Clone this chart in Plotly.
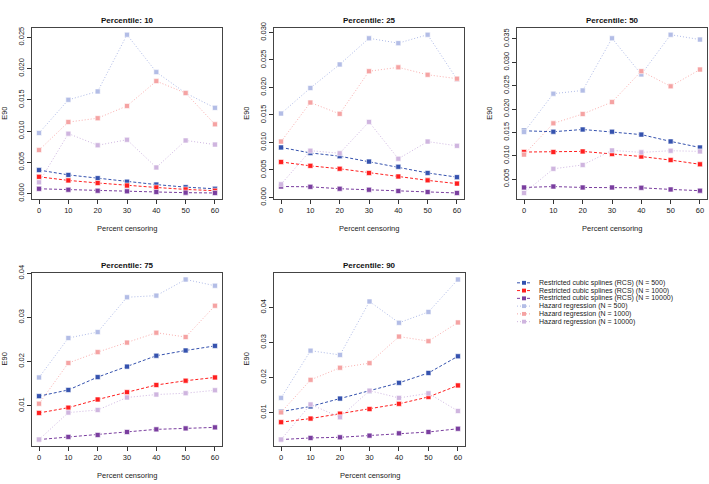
import plotly.graph_objects as go

censoring = [0, 10, 20, 30, 40, 50, 60]
percentiles = [10, 25, 50, 75, 90]

# E90 values per percentile panel
rcs500 = {
    10: [0.00376, 0.00299, 0.00247, 0.00191, 0.00144, 0.00103, 0.00077],
    25: [0.0091, 0.0081, 0.00751, 0.00652, 0.00558, 0.00446, 0.0037],
    50: [0.01534, 0.01514, 0.01562, 0.01514, 0.01452, 0.01307, 0.01176],
    75: [0.01216, 0.01357, 0.01648, 0.01886, 0.02132, 0.02251, 0.02355],
    90: [0.01028, 0.01178, 0.01402, 0.01617, 0.0185, 0.02131, 0.02607],
}
rcs1000 = {
    10: [0.00268, 0.00211, 0.0017, 0.00129, 0.00098, 0.00067, 0.00046],
    25: [0.00646, 0.00575, 0.00522, 0.00446, 0.00382, 0.00311, 0.00252],
    50: [0.01079, 0.01079, 0.01093, 0.01038, 0.00983, 0.00907, 0.00817],
    75: [0.00836, 0.00955, 0.01141, 0.01305, 0.01469, 0.01566, 0.0164],
    90: [0.00729, 0.00832, 0.00972, 0.01103, 0.01252, 0.01449, 0.01776],
}
rcs10000 = {
    10: [0.00077, 0.00062, 0.00046, 0.00036, 0.00026, 0.00015, 0.0001],
    25: [0.002, 0.00194, 0.00159, 0.00141, 0.00117, 0.001, 0.00082],
    50: [0.00321, 0.00341, 0.00321, 0.00321, 0.00314, 0.00279, 0.00252],
    75: [0.00233, 0.00293, 0.00337, 0.00404, 0.00464, 0.00486, 0.00509],
    90: [0.00234, 0.0028, 0.00299, 0.00346, 0.00411, 0.00449, 0.00542],
}
hr500 = {
    10: [0.00969, 0.015, 0.01634, 0.02541, 0.01943, 0.01608, 0.01371],
    25: [0.01526, 0.0199, 0.02419, 0.02894, 0.02806, 0.02959, 0.02149],
    50: [0.01507, 0.02328, 0.02397, 0.03514, 0.02741, 0.0359, 0.03486],
    75: [0.0164, 0.02534, 0.02668, 0.03457, 0.03494, 0.03859, 0.03718],
    90: [0.01421, 0.02766, 0.02645, 0.04168, 0.03561, 0.03869, 0.04794],
}
hr1000 = {
    10: [0.00696, 0.01144, 0.01206, 0.01402, 0.01799, 0.01608, 0.01108],
    25: [0.01016, 0.01726, 0.0152, 0.02295, 0.02366, 0.02231, 0.0216],
    50: [0.01024, 0.01693, 0.01893, 0.02148, 0.0281, 0.02486, 0.02845],
    75: [0.01045, 0.01968, 0.02214, 0.0243, 0.02653, 0.02556, 0.03264],
    90: [0.01009, 0.01935, 0.0228, 0.02411, 0.03168, 0.03037, 0.0357],
}
hr10000 = {
    10: [0.0018, 0.00959, 0.00773, 0.00861, 0.00418, 0.0085, 0.00784],
    25: [0.0024, 0.00851, 0.00804, 0.01374, 0.00704, 0.01016, 0.00939],
    50: [0.00203, 0.0072, 0.00803, 0.01114, 0.01072, 0.01107, 0.01093],
    75: [0.00233, 0.00844, 0.00903, 0.01186, 0.01253, 0.01283, 0.0135],
    90: [0.00234, 0.01234, 0.00869, 0.01626, 0.01421, 0.01551, 0.01047],
}

series_names = [
    "Restricted cubic splines (RCS) (N = 500)",
    "Restricted cubic splines (RCS) (N = 1000)",
    "Restricted cubic splines (RCS) (N = 10000)",
    "Hazard regression (N = 500)",
    "Hazard regression (N = 1000)",
    "Hazard regression (N = 10000)",
]
series_data = [rcs500, rcs1000, rcs10000, hr500, hr1000, hr10000]
line_colors = ["#3552AE", "#FF1F1F", "#7A3E9F",
               "rgba(120,140,215,0.6)", "rgba(245,120,120,0.6)", "rgba(175,135,205,0.6)"]
marker_colors = ["#3552AE", "#FF1F1F", "#7A3E9F", "#B3BDE6", "#F5A3A3", "#CFB5DF"]
dashes = ["3px,2px", "3px,2px", "3px,2px", "1px,2px", "1px,2px", "1px,2px"]

ytick_vals = {
    10: [0, 0.005, 0.01, 0.015, 0.02, 0.025],
    25: [0, 0.005, 0.01, 0.015, 0.02, 0.025, 0.03],
    50: [0.005, 0.01, 0.015, 0.02, 0.025, 0.03, 0.035],
    75: [0.01, 0.02, 0.03, 0.04],
    90: [0.01, 0.02, 0.03, 0.04],
}
ytick_fmt = {10: "{:.3f}", 25: "{:.3f}", 50: "{:.3f}", 75: "{:.2f}", 90: "{:.2f}"}

W, H = 709, 484
# panel boxes in pixels (left, right, top, bottom)
boxes = {
    10: (32, 222, 21, 197),
    25: (274, 464, 21, 197),
    50: (517, 707, 21, 197),
    75: (32, 222, 273, 451),
    90: (274, 465, 273, 451),
}

fig = go.Figure()
annotations = []
shapes = []
font = "Liberation Sans, Arial, sans-serif"

for i, p in enumerate(percentiles):
    ax = "" if i == 0 else str(i + 1)
    l, r, t, b = boxes[p]
    for k in range(6):
        fig.add_trace(go.Scatter(
            x=censoring, y=series_data[k][p], mode="lines+markers",
            name=series_names[k], showlegend=False,
            line=dict(color=line_colors[k], width=1, dash=dashes[k]),
            marker=dict(symbol="square", size=5, color=marker_colors[k],
                        line=dict(color="white", width=0.6)),
            xaxis="x" + ax, yaxis="y" + ax,
        ))
    allv = [v for s in series_data for v in s[p]]
    lo, hi = min(allv), max(allv)
    pad = 0.04 * (hi - lo)
    fig.layout["xaxis" + ax] = dict(
        domain=[l / W, r / W], anchor="y" + ax, range=[-2.4, 62.4],
        tickvals=censoring, ticks="outside", ticklen=4, tickcolor="#333",
        showline=True, mirror=True, linecolor="#444", linewidth=1,
        showgrid=False, zeroline=False,
        tickfont=dict(size=7.5, color="#222", family=font),
    )
    fig.layout["yaxis" + ax] = dict(
        domain=[1 - b / H, 1 - t / H], anchor="x" + ax, range=[lo - pad, hi + pad],
        tickvals=ytick_vals[p], ticktext=[ytick_fmt[p].format(v) for v in ytick_vals[p]],
        tickangle=-90, ticks="outside", ticklen=4, tickcolor="#333",
        showline=True, mirror=True, linecolor="#444", linewidth=1,
        showgrid=False, zeroline=False,
        tickfont=dict(size=7.5, color="#222", family=font),
    )
    annotations.append(dict(
        text="<b>Percentile: %d</b>" % p, x=(l + r) / 2 / W, y=1 - (t - 8) / H,
        xref="paper", yref="paper", showarrow=False, xanchor="center", yanchor="middle",
        font=dict(size=8, color="#111", family=font)))
    annotations.append(dict(
        text="Percent censoring", x=(l + r) / 2 / W, y=1 - (b + 30) / H,
        xref="paper", yref="paper", showarrow=False, xanchor="center", yanchor="middle",
        font=dict(size=7.5, color="#222", family=font)))
    annotations.append(dict(
        text="E90", x=(l - 27) / W, y=1 - (t + b) / 2 / H, textangle=-90,
        xref="paper", yref="paper", showarrow=False, xanchor="center", yanchor="middle",
        font=dict(size=7.5, color="#222", family=font)))

# custom compact legend (R style)
for k, name in enumerate(series_names):
    yy = 1 - (283 + 8 * k) / H
    x0, x1 = 517 / W, 531 / W
    shapes.append(dict(type="line", xref="paper", yref="paper", x0=x0, x1=x1, y0=yy, y1=yy,
                       line=dict(color=marker_colors[k], width=1, dash=dashes[k])))
    shapes.append(dict(type="rect", xref="paper", yref="paper",
                       x0=(524 - 2) / W, x1=(524 + 2) / W, y0=yy - 2 / H, y1=yy + 2 / H,
                       fillcolor=marker_colors[k], line=dict(width=0)))
    annotations.append(dict(
        text=name, x=537 / W, y=yy, xref="paper", yref="paper", showarrow=False,
        xanchor="left", yanchor="middle", font=dict(size=7, color="#222", family=font)))

fig.update_layout(
    width=W, height=H, margin=dict(l=0, r=0, t=0, b=0),
    paper_bgcolor="white", plot_bgcolor="white",
    annotations=annotations, shapes=shapes, showlegend=False,
)

fig.write_html("out.html", config={"displayModeBar": False},
               post_script="document.body.style.margin='0px';")
